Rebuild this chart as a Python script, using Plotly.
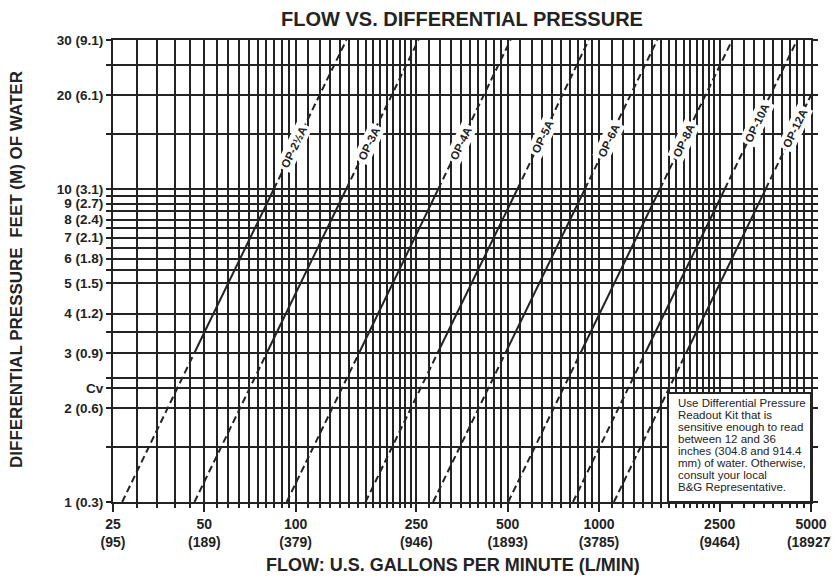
import math
import plotly.graph_objects as go

# ---------------- data ----------------
valves = ["OP-2½A", "OP-3A", "OP-4A", "OP-5A", "OP-6A", "OP-8A", "OP-10A", "OP-12A"]
# flow (GPM) where each valve curve crosses 1 ft, 3 ft and 10 ft of head
flow_1ft = [26.8, 46.4, 93.4, 170, 284, 502, 821, 1120]
flow_3ft = [46.4, 80.4, 162, 294, 492, 870, 1422, 1940]
flow_10ft = [84.7, 146.7, 295, 538, 898, 1587, 2596, 3542]
# upper end of each curve (flow GPM, head ft)
end_flow = [147, 254, 511, 925, 1556, 2750, 4500, 5000]
end_head = [30, 30, 30, 30, 30, 30, 30, 20]
# label positions along each curve
label_flow = [99, 174, 349, 651, 1074, 1898, 3314, 4438]
label_head = [13.6, 14.0, 14.0, 14.7, 14.3, 14.3, 16.3, 15.7]

x_major = [25, 50, 100, 250, 500, 1000, 2500, 5000]
x_major_text = ["25<br>(95)", "50<br>(189)", "100<br>(379)", "250<br>(946)",
                "500<br>(1893)", "1000<br>(3785)", "2500<br>(9464)", "5000<br>(18927)"]
x_minor = ([30, 35, 40, 45, 55, 60, 65, 70, 75, 80, 85, 90, 95]
           + [110, 120, 130, 140, 150, 160, 170, 180, 190, 200, 210, 220, 230, 240]
           + [275, 300, 325, 350, 375, 400, 425, 450, 475]
           + [550, 600, 650, 700, 750, 800, 850, 900, 950]
           + [1100, 1200, 1300, 1400, 1500, 1600, 1700, 1800, 1900, 2000, 2100, 2200, 2300, 2400]
           + [2750, 3000, 3250, 3500, 3750, 4000, 4250, 4500, 4750])

cv_head = 2.31
y_major = [1, 2, cv_head, 3, 4, 5, 6, 7, 8, 9, 10, 20, 30]
y_major_text = ["1 (0.3)", "2 (0.6)", "Cv", "3 (0.9)", "4 (1.2)", "5 (1.5)", "6 (1.8)",
                "7 (2.1)", "8 (2.4)", "9 (2.7)", "10 (3.1)", "20 (6.1)", "30 (9.1)"]
y_minor = [1.5, 2.5, 3.5, 5.5, 6.5, 7.5, 8.5, 9.5, 15, 25]

note_lines = ["Use Differential Pressure", "Readout Kit that is", "sensitive enough to read",
              "between 12 and 36", "inches (304.8 and 914.4", "mm) of water. Otherwise,",
              "consult your local", "B&amp;G Representative."]

INK = "#232323"
FONT = "Liberation Sans, Arial, Helvetica, sans-serif"

W, H = 839, 577
OFF = 8                      # page body margin offset
PL, PT, PR, PB = 113, 40, 811, 502   # plot box in screen pixels
ML, MT = PL - OFF, PT - OFF
PW, PH = PR - PL, PB - PT
MR, MB = W - ML - PW, H - MT - PH


def px_x(sx):
    return (sx - PL) / PW


def px_y(sy):
    return (PB - sy) / PH


fig = go.Figure()
for i, name in enumerate(valves):
    # dashed outer portions
    fig.add_trace(go.Scatter(
        x=[flow_1ft[i], flow_3ft[i], None, flow_10ft[i], end_flow[i]],
        y=[1, 3, None, 10, end_head[i]],
        mode="lines", line=dict(color=INK, width=2, dash="7px,4px"),
        showlegend=False, hoverinfo="skip"))
    # solid central portion
    fig.add_trace(go.Scatter(
        x=[flow_3ft[i], flow_10ft[i]], y=[3, 10],
        mode="lines", line=dict(color=INK, width=2),
        name=name, showlegend=False))
    fig.add_annotation(x=math.log10(label_flow[i]), y=math.log10(label_head[i]),
                       xref="x", yref="y",
                       text=name, showarrow=False, textangle=-64,
                       bgcolor="white", borderpad=2,
                       font=dict(family=FONT, size=11.5, color=INK, weight="bold"))

# Cv reference line (thicker)
fig.add_shape(type="line", xref="paper", yref="y", x0=0, x1=1.01,
              y0=math.log10(cv_head), y1=math.log10(cv_head),
              line=dict(color=INK, width=3.5), layer="below")

# note box
fig.add_shape(type="rect", xref="paper", yref="paper",
              x0=px_x(668), x1=1.0, y0=0.0, y1=px_y(393),
              line=dict(color=INK, width=2), fillcolor="white", layer="above")
for k, ln in enumerate(note_lines):
    fig.add_annotation(xref="paper", yref="paper", x=px_x(676), y=px_y(403 + 12 * k),
                       xanchor="left", yanchor="middle", text=ln, showarrow=False,
                       font=dict(family=FONT, size=11.5, color=INK))

# axis titles
fig.add_annotation(xref="paper", yref="paper", x=px_x(453), y=px_y(565),
                   xanchor="center", yanchor="middle", showarrow=False,
                   text="FLOW: U.S. GALLONS PER MINUTE (L/MIN)",
                   font=dict(family=FONT, size=18, color=INK, weight="bold"))
fig.add_annotation(xref="paper", yref="paper", x=px_x(16), y=px_y(270),
                   xanchor="center", yanchor="middle", showarrow=False, textangle=-90,
                   text="DIFFERENTIAL PRESSURE  FEET (M) OF WATER",
                   font=dict(family=FONT, size=17, color=INK, weight="bold"))

fig.update_layout(
    width=W, height=H,
    margin=dict(l=ML, r=MR, t=MT, b=MB, autoexpand=False),
    paper_bgcolor="white", plot_bgcolor="white",
    title=dict(text="FLOW VS. DIFFERENTIAL PRESSURE", x=(462 - OFF) / W, xanchor="center",
               y=1 - (19 - OFF) / H, yanchor="middle",
               font=dict(family=FONT, size=20, color=INK, weight="bold")),
    xaxis=dict(type="log", range=[math.log10(25), math.log10(5000)], automargin=False,
               tickmode="array", tickvals=x_major, ticktext=x_major_text,
               tickfont=dict(family=FONT, size=14, color=INK, weight="bold"),
               ticks="outside", ticklen=8, tickwidth=2, tickcolor=INK,
               showgrid=True, gridcolor=INK, gridwidth=2,
               showline=True, linecolor=INK, linewidth=2, mirror=True,
               minor=dict(tickmode="array", tickvals=x_minor, showgrid=True,
                          gridcolor=INK, gridwidth=2, ticks="outside", ticklen=4,
                          tickwidth=1.5, tickcolor=INK),
               zeroline=False),
    yaxis=dict(type="log", range=[0, math.log10(30)], automargin=False,
               tickmode="array", tickvals=y_major, ticktext=y_major_text,
               tickfont=dict(family=FONT, size=13.5, color=INK, weight="bold"),
               ticks="outside", ticklen=5, tickwidth=2, tickcolor=INK,
               showgrid=True, gridcolor=INK, gridwidth=2,
               showline=True, linecolor=INK, linewidth=2, mirror="ticks",
               minor=dict(tickmode="array", tickvals=y_minor, showgrid=True,
                          gridcolor=INK, gridwidth=2, ticks="outside", ticklen=5,
                          tickwidth=2, tickcolor=INK),
               zeroline=False),
)

fig.write_html("out.html")
